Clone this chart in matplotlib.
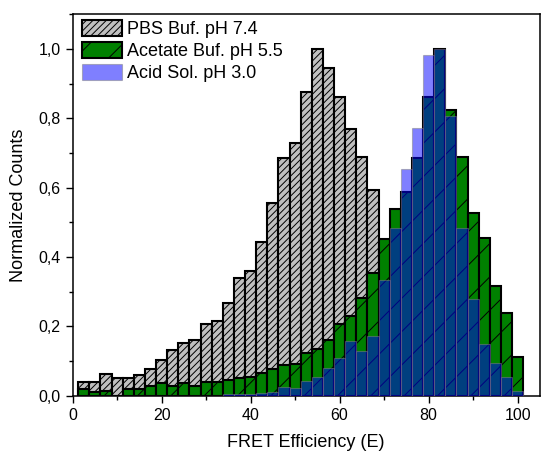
import numpy as np
import matplotlib
matplotlib.use("Agg")
import matplotlib.pyplot as plt
from matplotlib.ticker import MultipleLocator

plt.rcParams['font.family'] = ['Liberation Sans', 'DejaVu Sans']
plt.rcParams['hatch.linewidth'] = 0.7

# bin centres (FRET efficiency, %), width 2.5
e_centers = np.arange(1, 41) * 2.5

# normalized counts
pbs_74 = [0.039, 0.039, 0.062, 0.050, 0.050, 0.059, 0.078, 0.102, 0.131, 0.152,
          0.160, 0.207, 0.215, 0.267, 0.340, 0.359, 0.444, 0.555, 0.685, 0.729,
          0.875, 1.000, 0.945, 0.863, 0.769, 0.690, 0.594, 0.420, 0.300, 0.200,
          0.120, 0.070, 0.040, 0.020, 0.010, 0.005, 0.0, 0.0, 0.0, 0.0]
acetate_55 = [0.018, 0.010, 0.013, 0.000, 0.019, 0.018, 0.029, 0.036, 0.029, 0.036,
              0.028, 0.039, 0.039, 0.045, 0.051, 0.054, 0.065, 0.078, 0.089, 0.091,
              0.122, 0.136, 0.161, 0.207, 0.230, 0.281, 0.353, 0.452, 0.539, 0.587,
              0.685, 0.863, 1.000, 0.825, 0.690, 0.527, 0.454, 0.317, 0.240, 0.113]
acid_30 = [0.0, 0.0, 0.0, 0.0, 0.0, 0.0, 0.0, 0.0, 0.0, 0.0,
           0.0, 0.0, 0.0, 0.004, 0.006, 0.006, 0.007, 0.010, 0.025, 0.023,
           0.042, 0.055, 0.079, 0.110, 0.159, 0.130, 0.171, 0.334, 0.483, 0.654,
           0.771, 0.983, 1.000, 0.808, 0.483, 0.279, 0.149, 0.093, 0.053, 0.014]

labels = ['PBS Buf. pH 7.4', 'Acetate Buf. pH 5.5', 'Acid Sol. pH 3.0']
y_ticks = [0.0, 0.2, 0.4, 0.6, 0.8, 1.0]
y_ticklabels = ['0,0', '0,2', '0,4', '0,6', '0,8', '1,0']
x_ticks = [0, 20, 40, 60, 80, 100]

fig = plt.figure(figsize=(5.42, 4.51), dpi=100)
ax = fig.add_axes([0.134, 0.1226, 0.862, 0.8454])

w = 2.5
ax.bar(e_centers, pbs_74, width=w, color='#C0C0C0', edgecolor='black',
       linewidth=1.5, hatch='/////', label=labels[0], zorder=2)
ax.bar(e_centers, acetate_55, width=w, color='#008000', edgecolor='black',
       linewidth=1.5, hatch='/', label=labels[1], zorder=3)
ax.bar(e_centers, acid_30, width=w, color='#0000FF', edgecolor='#808080',
       linewidth=0.8, alpha=0.5, label=labels[2], zorder=4)

ax.set_xlim(0, 105)
ax.set_ylim(0, 1.1)
ax.set_xticks(x_ticks)
ax.set_yticks(y_ticks)
ax.set_yticklabels(y_ticklabels)
ax.xaxis.set_minor_locator(MultipleLocator(10))
ax.yaxis.set_minor_locator(MultipleLocator(0.1))
ax.tick_params(which='major', direction='out', length=5, width=1, labelsize=11.5)
ax.tick_params(which='minor', direction='out', length=3, width=1)
for s in ax.spines.values():
    s.set_linewidth(1.1)

ax.set_xlabel('FRET Efficiency (E)', fontsize=13, labelpad=8)
ax.set_ylabel('Normalized Counts', fontsize=13, labelpad=8)

ax.legend(loc='upper left', bbox_to_anchor=(0.02, 0.985), frameon=False,
          fontsize=13, handlelength=2.2, handleheight=1.0, handletextpad=0.3,
          labelspacing=0.2, borderpad=0.0, borderaxespad=0.0)

fig.savefig('out.png', dpi=100)
